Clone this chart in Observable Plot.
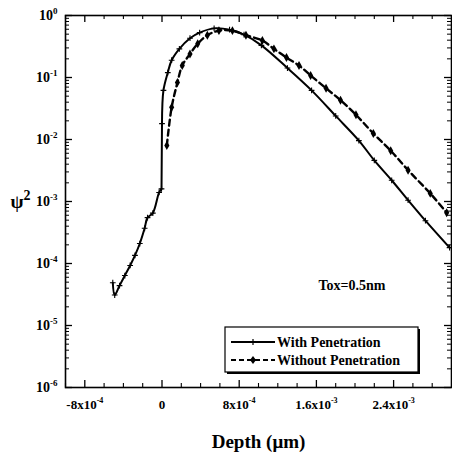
<!DOCTYPE html>
<html><head><meta charset="utf-8">
<script src="https://cdn.jsdelivr.net/npm/d3@7"></script>
<script src="https://cdn.jsdelivr.net/npm/@observablehq/plot@0.6"></script>
<style>body{margin:0;background:#fff}</style>
</head><body><div id="chart"></div>
<script>
// With penetration (solid, + markers)
const withDepth = [-5.1e-4,-4.9e-4,-4.4e-4,-3.85e-4,-3.3e-4,-2.8e-4,-2.3e-4,-1.8e-4,-1.5e-4,-0.95e-4,-0.3e-4,-0.05e-4,0,1.5e-5,6e-5,1.0e-4,1.8e-4,2.9e-4,3.9e-4,5.4e-4,7.0e-4,8.5e-4,1.03e-3,1.3e-3,1.55e-3,1.8e-3,2.04e-3,2.2e-3,2.38e-3,2.55e-3,2.73e-3,2.98e-3];
const withPsi2 = [4.9e-5,3.1e-5,4.4e-5,6.4e-5,9.3e-5,1.35e-4,2.1e-4,3.7e-4,5.5e-4,6.5e-4,1.4e-3,1.6e-3,0.018,0.062,0.12,0.19,0.29,0.43,0.53,0.62,0.59,0.49,0.33,0.142,0.062,0.024,0.0096,4.6e-3,2.2e-3,1.05e-3,4.9e-4,1.8e-4];
// Without penetration (dashed, diamond markers)
const withoutDepth = [5e-5,1.0e-4,1.6e-4,2.1e-4,2.9e-4,3.7e-4,4.7e-4,5.9e-4,7.3e-4,8.7e-4,1.04e-3,1.16e-3,1.29e-3,1.42e-3,1.54e-3,1.70e-3,1.85e-3,2.01e-3,2.19e-3,2.37e-3,2.55e-3,2.78e-3,2.95e-3];
const withoutPsi2 = [8e-3,0.033,0.083,0.156,0.24,0.35,0.48,0.57,0.57,0.48,0.395,0.29,0.21,0.156,0.108,0.067,0.043,0.025,0.0125,6.6e-3,3.2e-3,1.35e-3,6.6e-4];

const xMajorTicks = [-8e-4, 0, 8e-4, 1.6e-3, 2.4e-3];
const xTickLabels = ["-8x10^-4", "0", "8x10^-4", "1.6x10^-3", "2.4x10^-3"];
const xMinorTicks = [-1e-3,-6e-4,-4e-4,-2e-4,2e-4,4e-4,6e-4,1e-3,1.2e-3,1.4e-3,1.8e-3,2e-3,2.2e-3,2.6e-3,2.8e-3];
const yMajorTicks = [1e-6,1e-5,1e-4,1e-3,1e-2,1e-1,1];
const yTickLabels = ["10^-6","10^-5","10^-4","10^-3","10^-2","10^-1","10^0"];
const yMinorTicks = [];
for (const d of yMajorTicks.slice(0, -1)) for (let k = 2; k <= 9; k++) yMinorTicks.push(d * k);

const seriesNames = ["With Penetration", "Without Penetration"];
const noteText = "Tox=0.5nm";
const xLabel = "Depth (\u03bcm)";
const yLabel = "\u03c8^2";

const withData = withDepth.map((x, i) => ({x, y: withPsi2[i]}));
const withoutData = withoutDepth.map((x, i) => ({x, y: withoutPsi2[i]}));
// the step at the oxide interface (x = 0) is a straight vertical segment
const jump = withDepth.findIndex(d => d === 0);
const withBefore = withData.slice(0, jump);
const withAfter = withData.slice(jump);
const withStep = withData.slice(jump - 1, jump + 1);
const xLab = xMajorTicks.map((x, i) => ({x, t: xTickLabels[i]}));
const yLab = yMajorTicks.map((y, i) => ({y, t: yTickLabels[i]}));

const W = 452, H = 455, mT = 15, mB = 68, mL = 65, mR = 1;
const pw = W - mL - mR, ph = H - mT - mB;
const font = "Liberation Serif";

const chart = Plot.plot({
  width: W, height: H,
  marginTop: mT, marginBottom: mB, marginLeft: mL, marginRight: mR,
  style: {fontFamily: font, fontWeight: "bold", background: "white", color: "black"},
  x: {domain: [-1e-3, 3e-3], axis: null},
  y: {type: "log", domain: [1e-6, 1], axis: null},
  marks: [
    Plot.tickX(xMajorTicks, {x: d => d, insetTop: ph - 7, stroke: "black", strokeWidth: 1.3}),
    Plot.tickX(xMajorTicks, {x: d => d, insetBottom: ph - 7, stroke: "black", strokeWidth: 1.3}),
    Plot.tickX(xMinorTicks, {x: d => d, insetTop: ph - 4, stroke: "black", strokeWidth: 1.1}),
    Plot.tickX(xMinorTicks, {x: d => d, insetBottom: ph - 4, stroke: "black", strokeWidth: 1.1}),
    Plot.tickY(yMajorTicks, {y: d => d, insetRight: pw - 7, stroke: "black", strokeWidth: 1.3}),
    Plot.tickY(yMajorTicks, {y: d => d, insetLeft: pw - 7, stroke: "black", strokeWidth: 1.3}),
    Plot.tickY(yMinorTicks, {y: d => d, insetRight: pw - 4, stroke: "black", strokeWidth: 1}),
    Plot.tickY(yMinorTicks, {y: d => d, insetLeft: pw - 4, stroke: "black", strokeWidth: 1}),
    Plot.frame({stroke: "black", strokeWidth: 1.6}),
    Plot.line(withBefore, {x: "x", y: "y", stroke: "black", strokeWidth: 2, curve: "catmull-rom"}),
    Plot.line(withStep, {x: "x", y: "y", stroke: "black", strokeWidth: 2}),
    Plot.line(withAfter, {x: "x", y: "y", stroke: "black", strokeWidth: 2, curve: "catmull-rom"}),
    Plot.dot(withData, {x: "x", y: "y", symbol: "plus", r: 2, stroke: "black", strokeWidth: 1.1}),
    Plot.line(withoutData, {x: "x", y: "y", stroke: "black", strokeWidth: 2.4, strokeDasharray: "6,4", curve: "catmull-rom"}),
    Plot.dot(withoutData, {x: "x", y: "y", symbol: "diamond", r: 2.7, fill: "black", stroke: "none"}),
    Plot.text(xLab, {x: "x", text: "t", frameAnchor: "bottom", dy: 21, fontSize: 13, fill: "black"}),
    Plot.text(yLab, {y: "y", text: "t", frameAnchor: "left", dx: -8, textAnchor: "end", fontSize: 14, fill: "black"}),
    Plot.text([xLabel], {text: d => d, frameAnchor: "bottom", dy: 60, fontSize: 19, fill: "black"}),
    Plot.text([yLabel], {text: d => d, frameAnchor: "left", dx: -55, textAnchor: "start", fontSize: 19, fill: "black"}),
    Plot.text([noteText], {text: d => d, frameAnchor: "top-left", dx: 253, dy: 270, textAnchor: "start", lineAnchor: "middle", fontSize: 14, fill: "black"})
  ]
});

const svg = d3.select(chart);
svg.selectAll("text").each(function() {
  const el = d3.select(this);
  const s = el.text();
  if (!s.includes("^")) return;
  const [base, sup] = s.split("^");
  const fsAttr = this.getAttribute("font-size") || (this.parentNode && this.parentNode.getAttribute("font-size"));
  const fs = parseFloat(fsAttr) || 13;
  const big = fs > 16;
  el.text(null);
  el.append("tspan").text(base);
  el.append("tspan").attr("font-size", Math.round(fs * (big ? 0.72 : 0.62))).attr("dy", -fs * (big ? 0.38 : 0.42)).text(sup);
});

// legend
const lg = svg.append("g").attr("font-family", font).attr("font-weight", "bold").attr("text-anchor", "start");
const bx = 225, by = 327, bw = 193, bh = 45;
lg.append("rect").attr("x", bx + 2).attr("y", by + 2).attr("width", bw).attr("height", bh).attr("fill", "black");
lg.append("rect").attr("x", bx).attr("y", by).attr("width", bw).attr("height", bh).attr("fill", "white").attr("stroke", "black").attr("stroke-width", 1.2);
const rows = [{y: by + 15, dash: null}, {y: by + 33, dash: "5,3"}];
rows.forEach((r, i) => {
  lg.append("line").attr("x1", bx + 6).attr("x2", bx + 50).attr("y1", r.y).attr("y2", r.y)
    .attr("stroke", "black").attr("stroke-width", 2).attr("stroke-dasharray", r.dash);
  const cx = bx + 28;
  if (i === 0) {
    lg.append("path").attr("d", `M${cx - 3},${r.y}h6M${cx},${r.y - 3}v6`).attr("stroke", "black").attr("stroke-width", 1.2);
  } else {
    lg.append("path").attr("d", `M${cx},${r.y - 4}L${cx + 3},${r.y}L${cx},${r.y + 4}L${cx - 3},${r.y}Z`).attr("fill", "black");
  }
  lg.append("text").attr("x", bx + 52).attr("y", r.y).attr("dy", "0.35em").attr("font-size", 14).attr("fill", "black").attr("text-anchor", "start").text(seriesNames[i]);
});

document.getElementById("chart").appendChild(chart);
</script>
</body></html>
